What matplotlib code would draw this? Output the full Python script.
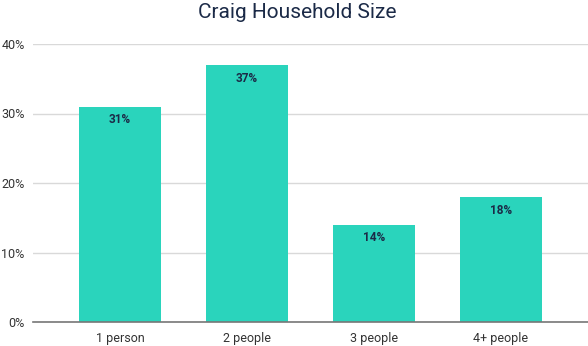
import matplotlib
matplotlib.use("Agg")
import matplotlib.pyplot as plt
from matplotlib.ticker import FuncFormatter

categories = ["1 person", "2 people", "3 people", "4+ people"]
values = [31, 37, 14, 18]
yticks = [0, 10, 20, 30, 40]

plt.rcParams['font.family'] = ['Roboto', 'DejaVu Sans']

fig = plt.figure(figsize=(5.88, 3.46), dpi=100)
ax = fig.add_axes([33/588, 24/346, 555/588, 278/346])

x = list(range(len(categories)))
bars = ax.bar(x, values, width=0.646, color="#2AD4BC", zorder=3)
for xi, v in zip(x, values):
    ax.annotate(f"{v}%", (xi, v), xytext=(0, -9.5), textcoords="offset points",
                ha="center", va="center", fontsize=8.5, fontweight="bold",
                color="#1B2A47", zorder=4)

ax.set_xlim(-0.685, 3.685)
ax.set_ylim(0, 40)
ax.set_yticks(yticks)
ax.yaxis.set_major_formatter(FuncFormatter(lambda v, p: f"{int(v)}%"))
ax.set_xticks(x)
ax.set_xticklabels(categories)
ax.grid(axis="y", color="#D9D9D9", linewidth=1, zorder=0)
for s in ["top", "right", "left"]:
    ax.spines[s].set_visible(False)
ax.spines["bottom"].set_color("#777777")
ax.spines["bottom"].set_linewidth(1.2)
ax.spines["bottom"].set_zorder(5)
ax.tick_params(axis="both", length=0, labelsize=9, colors="#333333")
ax.tick_params(axis="x", pad=7)
ax.tick_params(axis="y", pad=6)

fig.text(0.505, 0.963, "Craig Household Size", ha="center", va="center",
         fontsize=15, color="#1B2A47")

fig.savefig("out.png", dpi=100)
